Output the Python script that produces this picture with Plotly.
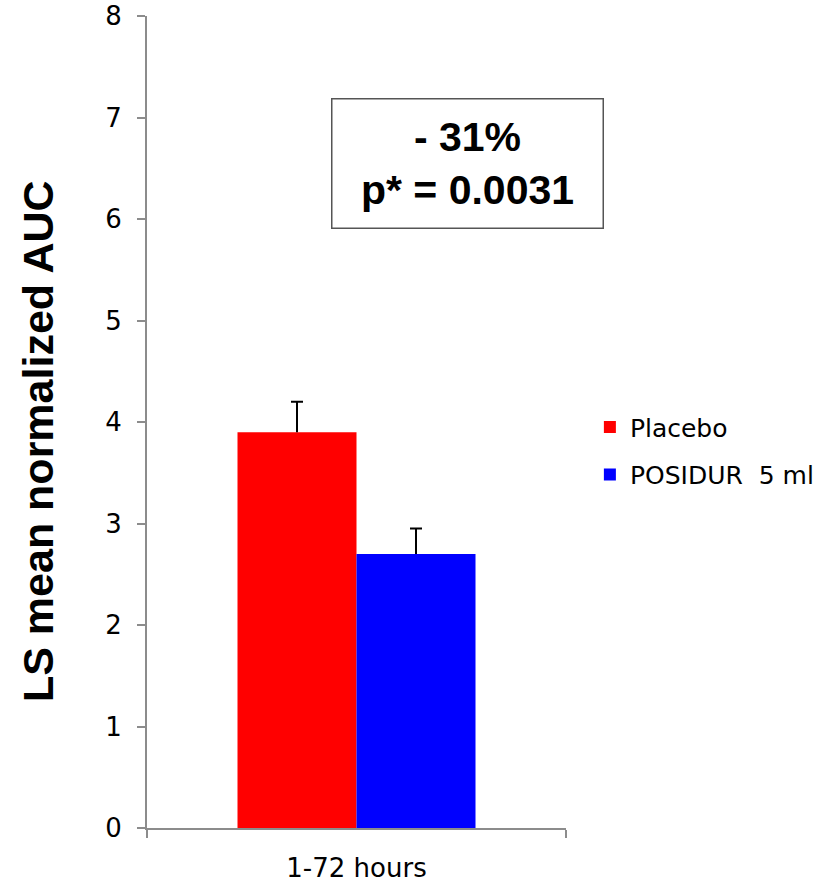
import plotly.graph_objects as go

categories = ["1-72 hours"]
series_names = ["Placebo", "POSIDUR  5 ml"]
placebo_values = [3.9]
posidur_values = [2.7]
placebo_err = [0.3]
posidur_err = [0.25]
colors = ["#FF0000", "#0000FF"]
y_ticks = [0, 1, 2, 3, 4, 5, 6, 7, 8]
y_title = "LS mean normalized AUC"
box_text = "- 31%<br>p* = 0.0031"

tick_font = dict(family="DejaVu Sans, Verdana, sans-serif", size=26, color="#000000")

fig = go.Figure()
series = [
    (series_names[0], placebo_values, placebo_err),
    (series_names[1], posidur_values, posidur_err),
]
for i, (name, vals, errs) in enumerate(series):
    # main bar with upward error stem (no caps)
    fig.add_trace(
        go.Bar(
            x=categories,
            y=vals,
            name=name,
            legendgroup=f"g{i}",
            offsetgroup=f"o{i}",
            marker=dict(color=colors[i], line=dict(width=0)),
            error_y=dict(
                type="data",
                array=errs,
                symmetric=False,
                arrayminus=[0] * len(errs),
                color="#000000",
                thickness=2,
                width=0,
            ),
        )
    )
for i, (name, vals, errs) in enumerate(series):
    # invisible bar reaching the error top, used to draw the single top cap
    fig.add_trace(
        go.Bar(
            x=categories,
            y=errs,
            base=vals,
            width=0.004,
            offsetgroup=f"o{i}",
            showlegend=False,
            hoverinfo="skip",
            marker=dict(color="rgba(0,0,0,0)", line=dict(width=0)),
            error_y=dict(
                type="data",
                array=[0] * len(errs),
                color="#000000",
                thickness=2,
                width=6,
            ),
        )
    )

fig.update_layout(
    width=835,
    height=884,
    margin=dict(l=147, r=269, t=16, b=56),
    paper_bgcolor="white",
    plot_bgcolor="white",
    barmode="group",
    bargap=0.432,
    bargroupgap=0,
    showlegend=True,
    legend=dict(
        x=1.057,
        xanchor="left",
        y=0.522,
        yanchor="top",
        font=dict(family="DejaVu Sans, Verdana, sans-serif", size=25, color="#000000"),
        traceorder="grouped",
        tracegroupgap=12,
        bgcolor="rgba(0,0,0,0)",
    ),
    xaxis=dict(
        type="category",
        range=[-0.5, 0.5],
        showline=True,
        linecolor="#8c8c8c",
        linewidth=2,
        ticks="outside",
        tickson="boundaries",
        ticklen=8,
        tickwidth=2,
        tickcolor="#8c8c8c",
        tickfont=tick_font,
        ticklabelstandoff=16,
        ticklabeloverflow="allow",
        showgrid=False,
        zeroline=False,
        automargin=False,
    ),
    yaxis=dict(
        range=[0, 8],
        tickvals=y_ticks,
        showline=True,
        linecolor="#8c8c8c",
        linewidth=2,
        ticks="outside",
        ticklen=8,
        tickwidth=2,
        tickcolor="#8c8c8c",
        tickfont=tick_font,
        ticklabelstandoff=10,
        ticklabeloverflow="allow",
        showgrid=False,
        zeroline=False,
        automargin=False,
    ),
    annotations=[
        dict(
            text=f"<b>{y_title}</b>",
            xref="paper",
            yref="paper",
            x=-0.26,
            y=0.4766,
            xanchor="center",
            yanchor="middle",
            textangle=-90,
            showarrow=False,
            font=dict(family="Liberation Sans, Arial, sans-serif", size=43, color="#000000"),
        ),
        dict(
            text=f"<b>{box_text}</b>",
            xref="paper",
            yref="paper",
            x=0.766,
            y=0.818,
            xanchor="center",
            yanchor="middle",
            showarrow=False,
            align="center",
            width=268,
            height=126,
            borderpad=1,
            borderwidth=1.5,
            bordercolor="#555555",
            bgcolor="white",
            font=dict(family="Liberation Sans, Arial, sans-serif", size=41, color="#000000"),
        ),
    ],
)

fig.write_html(
    "out.html",
    config={"displayModeBar": False},
    post_script="document.body.style.margin='0';document.body.style.overflow='hidden';",
)
